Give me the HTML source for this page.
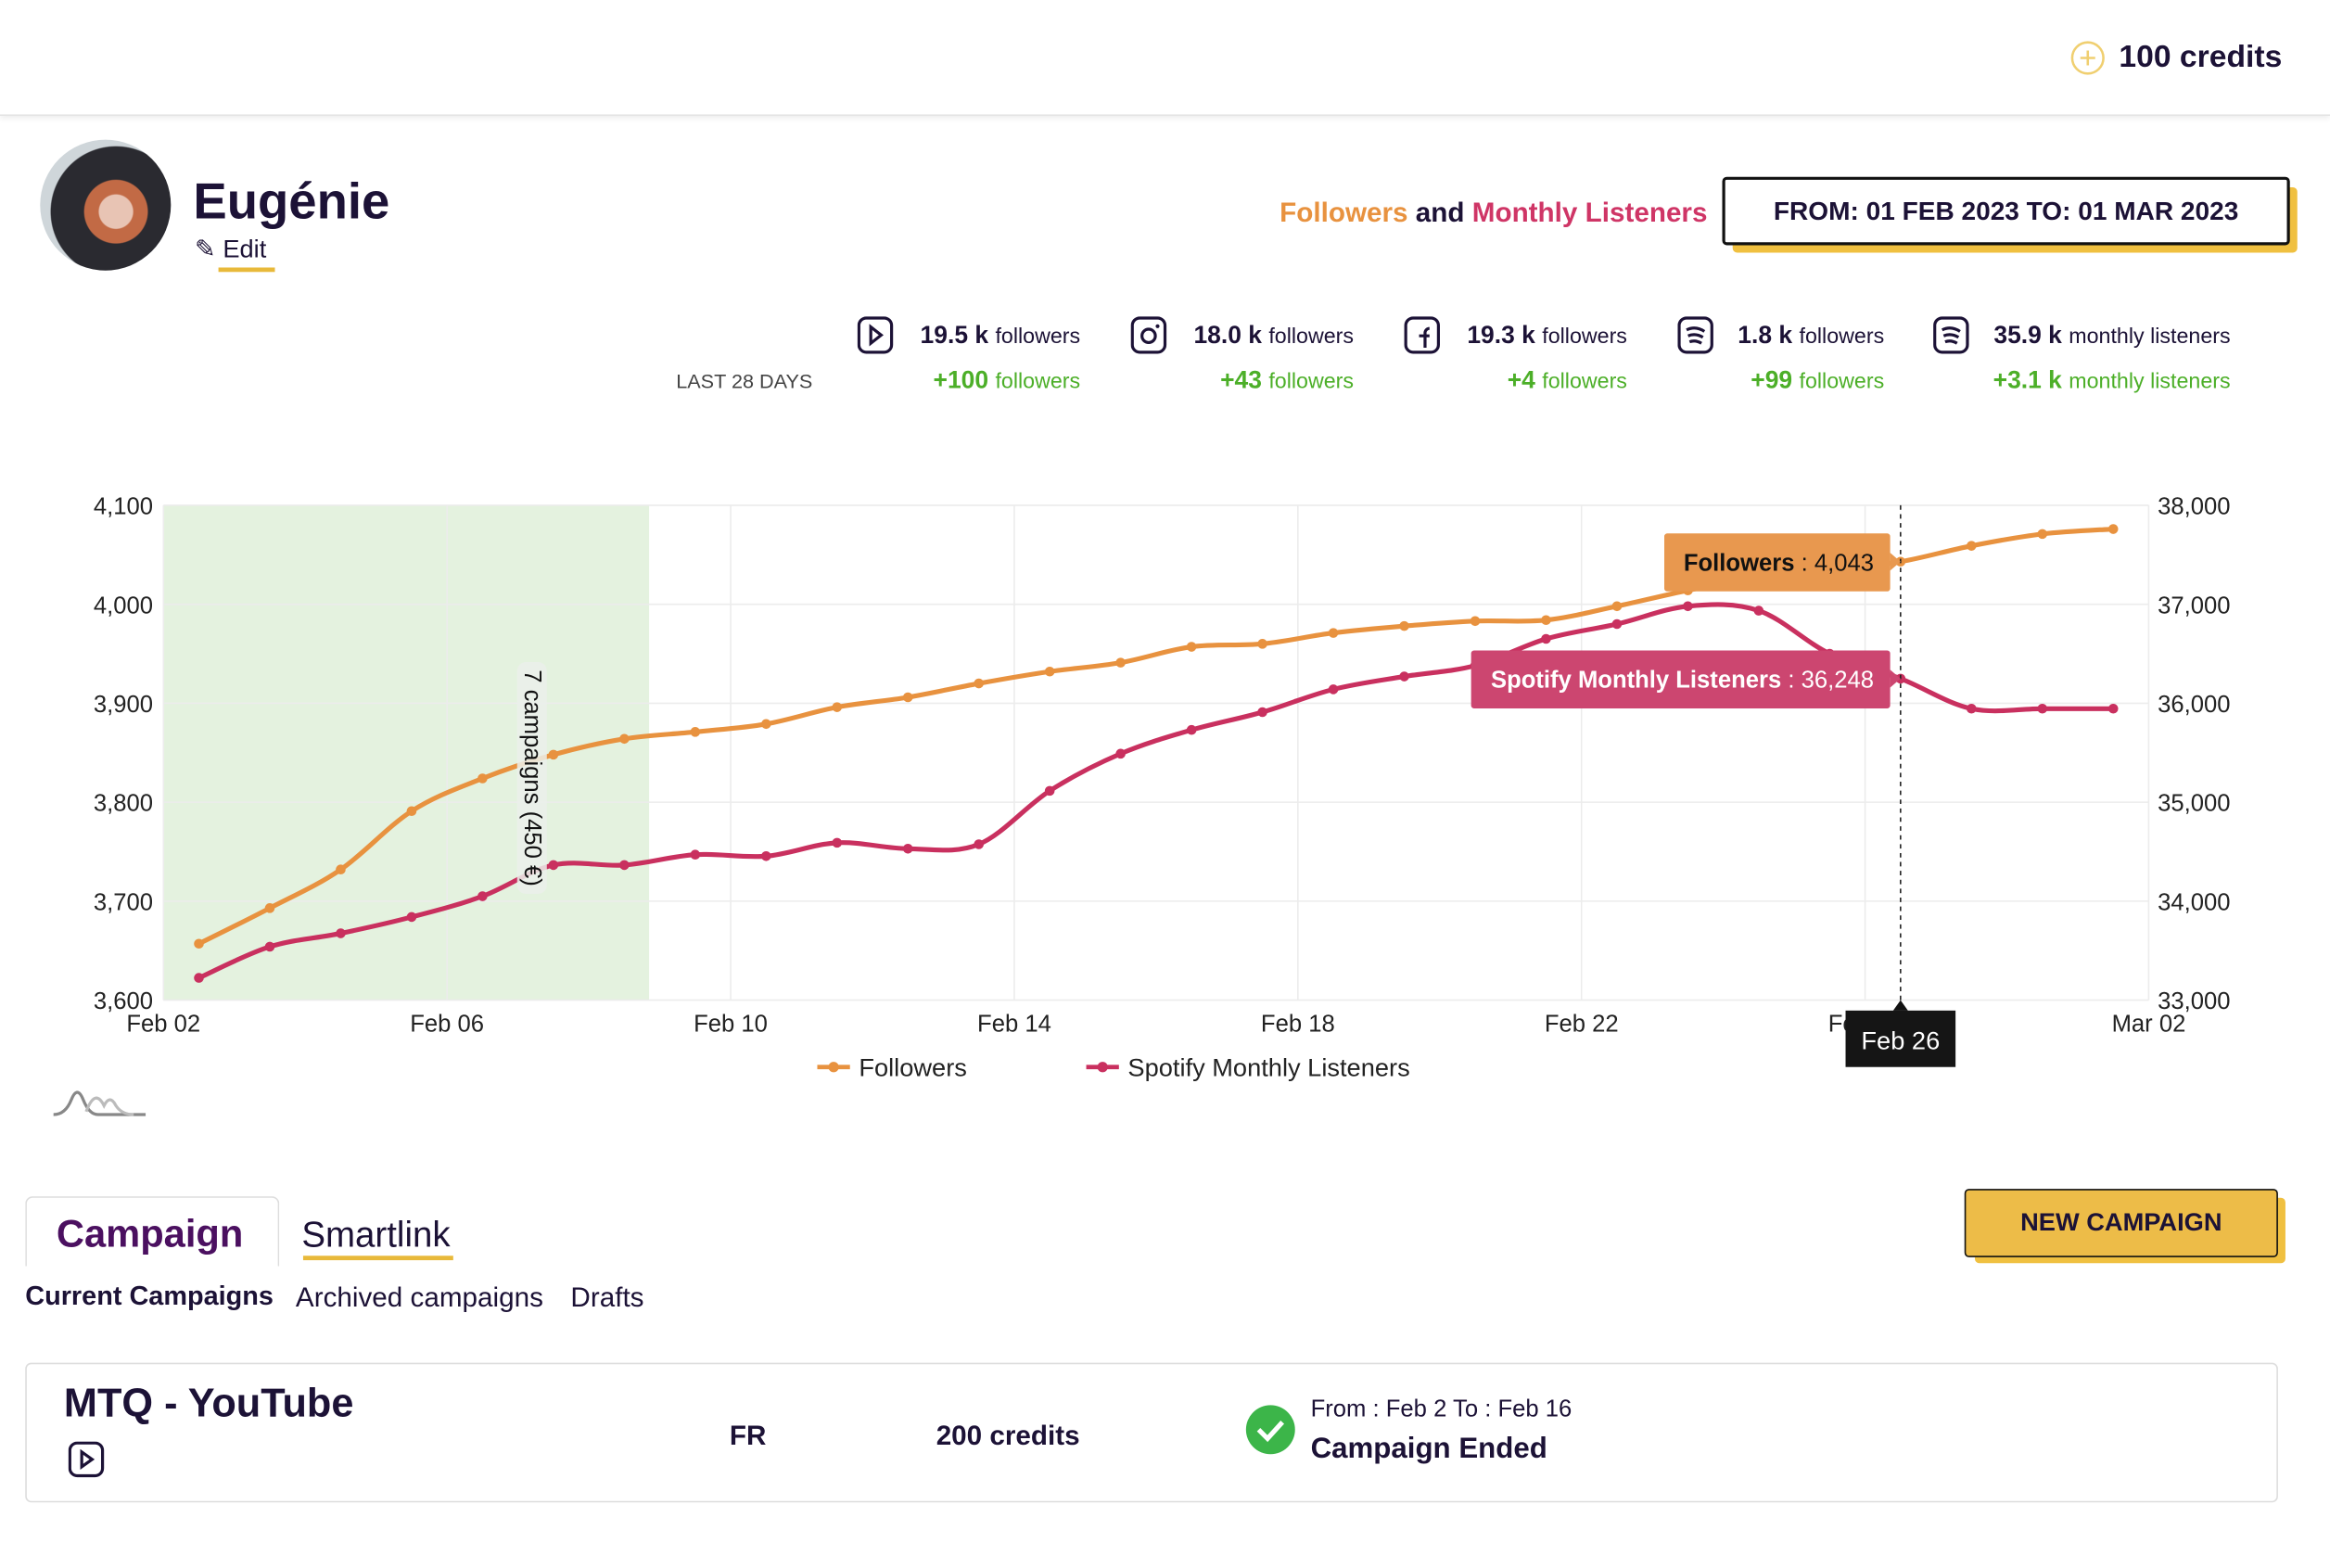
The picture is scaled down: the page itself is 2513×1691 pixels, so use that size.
<!DOCTYPE html>
<html><head><meta charset="utf-8">
<style>
html,body{margin:0;padding:0;background:#fff;overflow:hidden}
body{width:2513px;height:1691px;position:relative}
#wrap{position:absolute;left:0;top:0;width:1568px;height:1055px;transform:scale(1.60268);transform-origin:0 0;font-family:"Liberation Sans Narrow","Liberation Sans",sans-serif;color:#1c1236}
.a{position:absolute;white-space:nowrap}
svg text{font-family:"Liberation Sans Narrow","Liberation Sans",sans-serif}
</style></head><body>
<div id="wrap">
<div class="a" style="left:0;top:0;width:1568px;height:77px;border-bottom:1px solid #e4e4e4;box-shadow:0 2px 4px rgba(0,0,0,0.08)"></div>
<svg class="a" style="left:1393px;top:27px" width="24" height="24"><circle cx="12" cy="12" r="10.5" fill="none" stroke="#f0cf70" stroke-width="1.6"/><path d="M12 7v10M7 12h10" stroke="#f0cf70" stroke-width="1.6"/></svg>
<div class="a" style="left:1426px;top:27px;font-size:21px;font-weight:bold">100 credits</div>

<div class="a" style="left:27px;top:94px;width:88px;height:88px;border-radius:50%;background:radial-gradient(circle at 58% 55%,#e8c4b4 0 16%,#c26a45 17% 30%,#2a2a30 31% 62%,#cfd6da 63%)"></div>
<div class="a" style="left:130px;top:117px;font-size:34px;font-weight:bold;color:#1c1236">Eugénie</div>
<div class="a" style="left:131px;top:158px;font-size:17px;color:#1c1236">&#9998; Edit</div>
<div class="a" style="left:147px;top:180px;width:38px;height:3px;background:#e8b93a"></div>

<div class="a" style="right:419px;top:132px;font-size:18.5px;font-weight:bold"><span style="color:#e8923f">Followers</span> and <span style="color:#cf3566">Monthly Listeners</span></div>
<div class="a" style="left:1166px;top:126px;width:380px;height:44px;background:#f0c040;border-radius:3px"></div>
<div class="a" style="left:1159px;top:119px;width:378px;height:42px;border:2px solid #111;background:#fff;border-radius:3px;font-size:17.5px;font-weight:bold;line-height:42px;text-align:center;color:#1c1236">FROM: 01 FEB 2023 TO: 01 MAR 2023</div>

<div class="a" style="left:455px;top:249px;font-size:13.5px;color:#444">LAST 28 DAYS</div>
<div id="stats"></div>

<svg class="a" id="chart" style="left:0;top:300px" width="1568" height="480" viewBox="0 300 1568 480"></svg>

<svg class="a" style="left:34px;top:728px" width="68" height="26"><path d="M2 22 Q10 22 14 12 Q18 2 22 12 Q26 22 32 22 L64 22" fill="none" stroke="#888" stroke-width="2"/><path d="M24 20 Q30 4 36 16 Q40 8 44 16 Q48 22 56 22" fill="none" stroke="#bbb" stroke-width="2"/></svg>

<div class="a" style="left:17px;top:805px;width:169px;height:46px;border:1px solid #ddd;border-bottom:none;border-radius:5px 5px 0 0"></div>
<div class="a" style="left:38px;top:815px;font-size:26px;font-weight:bold;color:#4b1060">Campaign</div>
<div class="a" style="left:203px;top:818px;font-size:24px;color:#1c1236">Smartlink</div>
<div class="a" style="left:204px;top:845px;width:101px;height:3px;background:#e8b93a"></div>
<div class="a" style="left:17px;top:862px;font-size:18px;font-weight:bold">Current Campaigns</div>
<div class="a" style="left:199px;top:862px;font-size:18.5px">Archived campaigns</div>
<div class="a" style="left:384px;top:862px;font-size:18.5px">Drafts</div>

<div class="a" style="left:1329px;top:806px;width:209px;height:44px;background:#f0c040;border-radius:3px"></div>
<div class="a" style="left:1322px;top:800px;width:209px;height:44px;border:1.5px solid #111;background:#edbc48;border-radius:3px;font-size:17px;font-weight:bold;line-height:44px;text-align:center">NEW CAMPAIGN</div>

<div class="a" style="left:17px;top:917px;width:1514px;height:92px;border:1.5px solid #ddd;border-radius:4px"></div>
<div class="a" style="left:43px;top:929px;font-size:27px;font-weight:bold">MTQ - YouTube</div>
<svg class="a" style="left:46px;top:970px" width="26" height="26"><rect x="1" y="1" width="22" height="22" rx="5" fill="none" stroke="#1c1236" stroke-width="2"/><path d="M9 7v10l7-5z" fill="none" stroke="#1c1236" stroke-width="2"/></svg>
<div class="a" style="left:491px;top:955px;font-size:18.5px;font-weight:bold">FR</div>
<div class="a" style="left:630px;top:955px;font-size:18.5px;font-weight:bold">200 credits</div>
<svg class="a" style="left:838px;top:945px" width="34" height="34"><circle cx="17" cy="17" r="16.5" fill="#3cb549"/><path d="M9 17l6 6 10-11" fill="none" stroke="#fff" stroke-width="3.2"/></svg>
<div class="a" style="left:882px;top:940px;font-size:16px">From : Feb 2 To : Feb 16</div>
<div class="a" style="left:882px;top:964px;font-size:19.5px;font-weight:bold">Campaign Ended</div>
</div>

<script>
// ---- chart data ----
const dayLabels = ["Feb 02","Feb 06","Feb 10","Feb 14","Feb 18","Feb 22","Feb 26","Mar 02"];
const followers = [3657,3693,3732,3791,3824,3848,3864,3871,3879,3896,3906,3920,3932,3941,3957,3960,3971,3978,3983,3984,3998,4014,4027,4034,4043,4059,4071,4076];
const listeners = [33225,33540,33675,33840,34050,34365,34365,34470,34455,34590,34530,34575,35115,35490,35730,35910,36140,36270,36380,36650,36800,36980,36935,36500,36248,35945,35945,35945];
const leftTicks = [3600,3700,3800,3900,4000,4100];
const rightTicks = [33000,34000,35000,36000,37000,38000];
const campaignDays = [0, 6.85];
const campaignLabel = "7 campaigns (450 €)";
const hoverIndex = 24;
const hoverLabel = "Feb 26";

const NS="http://www.w3.org/2000/svg";
const svg=document.getElementById('chart');
const X0=110,X1=1446,Y0=673,Y1=340,DAYS=28;
const xs=d=>X0+(X1-X0)*d/DAYS;
const yl=v=>Y0-(v-3600)/500*(Y0-Y1);
const yr=v=>Y0-(v-33000)/5000*(Y0-Y1);
function mk(tag,attrs,parent){const e=document.createElementNS(NS,tag);for(const k in attrs)e.setAttribute(k,attrs[k]);(parent||svg).appendChild(e);return e;}

const band=mk('rect',{x:xs(campaignDays[0]),y:Y1,width:xs(campaignDays[1])-xs(campaignDays[0]),height:Y0-Y1,fill:'#e4f2df'});


leftTicks.forEach((t,i)=>{
  const g=mk('line',{x1:X0,x2:X1,y1:yl(t),y2:yl(t),stroke:'#ececec','stroke-width':1});
  
  
  const l=mk('text',{x:103,y:yl(t)+6,'text-anchor':'end','font-size':16,fill:'#222'});l.textContent=t.toLocaleString('en-US');
  
  
});
rightTicks.forEach(t=>{
  const l=mk('text',{x:1452,y:yr(t)+6,'font-size':16,fill:'#222'});l.textContent=t.toLocaleString('en-US');
  
  
});
dayLabels.forEach((lab,i)=>{
  const d=i*4;
  const g=mk('line',{x1:xs(d),x2:xs(d),y1:Y1,y2:Y0,stroke:'#ececec','stroke-width':1});
  
  
  const l=mk('text',{x:xs(d),y:694,'text-anchor':'middle','font-size':16,fill:'#222'});l.textContent=lab;
  
  
});
function smooth(pts){
  let d=`M${pts[0][0]},${pts[0][1]}`;
  for(let i=0;i<pts.length-1;i++){
    const p0=pts[i-1]||pts[i],p1=pts[i],p2=pts[i+1],p3=pts[i+2]||p2;
    const c1=[p1[0]+(p2[0]-p0[0])/6,p1[1]+(p2[1]-p0[1])/6];
    const c2=[p2[0]-(p3[0]-p1[0])/6,p2[1]-(p3[1]-p1[1])/6];
    d+=` C${c1[0]},${c1[1]} ${c2[0]},${c2[1]} ${p2[0]},${p2[1]}`;
  }
  return d;
}
function series(vals,yf,color,name){
  const pts=vals.map((v,i)=>[xs(i+0.5),yf(v)]);
  const p=mk('path',{d:smooth(pts),fill:'none',stroke:color,'stroke-width':3.2});
  
  
  pts.forEach(q=>{
    const c=mk('circle',{cx:q[0],cy:q[1],r:3.3,fill:color});
    
    
  });
}
series(followers,yl,'#e8923f','followers');
series(listeners,yr,'#c9305f','listeners');

const cx=358,cy=(Y1+Y0)/2+17;
const lbg=mk('rect',{x:cx-10,y:cy-78,width:20,height:156,rx:6,fill:'rgba(235,240,235,0.85)'});


const lt=mk('text',{x:cx,y:cy,transform:`rotate(90 ${cx} ${cy})`,'text-anchor':'middle','dominant-baseline':'central','font-size':16,fill:'#111',style:'font-family:"Liberation Sans",sans-serif'});lt.textContent=campaignLabel;



const hx=xs(hoverIndex+0.5);
const hl=mk('line',{x1:hx,x2:hx,y1:Y1,y2:Y0,stroke:'#222','stroke-width':1,'stroke-dasharray':'3,3'});


function tip(val,yf,color,txtColor,label,w,name){
  const y=yf(val);
  const g=mk('g',{});
  
  
  mk('rect',{x:hx-7-w,y:y-19,width:w,height:39,rx:2,fill:color},g);
  mk('path',{d:`M${hx-7},${y-6} L${hx},${y} L${hx-7},${y+6}z`,fill:color},g);
  const t=mk('text',{x:hx-18,y:y+6,'text-anchor':'end','font-size':16,fill:txtColor},g);
  t.innerHTML=`<tspan font-weight="bold">${label}</tspan> : ${val.toLocaleString('en-US')}`;
}
tip(followers[hoverIndex],yl,'#e8984f','#111','Followers',152,'followers-tooltip');
tip(listeners[hoverIndex],yr,'#cc4670','#fff','Spotify Monthly Listeners',282,'listeners-tooltip');
const xt=mk('g',{});


mk('path',{d:`M${hx-5},680 L${hx},673 L${hx+5},680z`,fill:'#111'},xt);
mk('rect',{x:hx-37,y:680,width:74,height:38,fill:'#151515'},xt);
const xtt=mk('text',{x:hx,y:706,'text-anchor':'middle','font-size':17,fill:'#fff'},xt);xtt.textContent=hoverLabel;

[['Followers','#e8923f',550],['Spotify Monthly Listeners','#c9305f',731]].forEach(([n,c,x])=>{
  const g=mk('g',{});
  
  
  mk('line',{x1:x,x2:x+22,y1:718,y2:718,stroke:c,'stroke-width':3},g);
  mk('circle',{cx:x+11,cy:718,r:3.5,fill:c},g);
  const t=mk('text',{x:x+28,y:724,'font-size':17,fill:'#222'},g);t.textContent=n;
});

const statValues=["19.5 k","18.0 k","19.3 k","1.8 k","35.9 k"];
const statUnits=["followers","followers","followers","followers","monthly listeners"];
const statDeltas=["+100","+43","+4","+99","+3.1 k"];
const statIcons=["youtube","instagram","facebook","spotify","spotify"];
const iconX=[577,761,945,1129,1301];
const rightX=[727,911,1095,1268,1501];
const stats=document.getElementById('stats');
statValues.forEach((v,i)=>{
  const ic=document.createElementNS(NS,'svg');
  ic.setAttribute('class','a');ic.setAttribute('width','26');ic.setAttribute('height','28');
  ic.setAttribute('style',`left:${iconX[i]}px;top:212px`);
  
  
  let inner='<rect x="1" y="2" width="22" height="23" rx="5" fill="none" stroke="#1c1236" stroke-width="2"/>';
  if(statIcons[i]==='youtube')inner+='<path d="M9 8v11l7-5.5z" fill="none" stroke="#1c1236" stroke-width="2"/>';
  if(statIcons[i]==='instagram')inner+='<circle cx="12" cy="14" r="4.5" fill="none" stroke="#1c1236" stroke-width="2"/><circle cx="18" cy="7.5" r="1.3" fill="#1c1236"/>';
  if(statIcons[i]==='facebook')inner+='<path d="M14 22v-10a3 3 0 0 1 3-3M10 14h7" fill="none" stroke="#1c1236" stroke-width="2"/>';
  if(statIcons[i]==='spotify')inner+='<path d="M6 10q6-3 12 1M7 14q5-2 10 1M8 18q4-1.5 8 1" fill="none" stroke="#1c1236" stroke-width="2"/>';
  ic.innerHTML=inner;stats.appendChild(ic);
  const t=document.createElement('div');t.className='a';
  t.setAttribute('style',`right:${1568-rightX[i]}px;top:217px;font-size:16.5px;color:#1c1236`);
  
  
  t.innerHTML=`<b>${v}</b> <span style="font-size:14.5px">${statUnits[i]}</span>`;stats.appendChild(t);
  const d=document.createElement('div');d.className='a';
  d.setAttribute('style',`right:${1568-rightX[i]}px;top:247px;font-size:16.5px;color:#4caf28`);
  
  
  d.innerHTML=`<b>${statDeltas[i]}</b> <span style="font-size:14.5px">${statUnits[i]}</span>`;stats.appendChild(d);
});
</script>
</body></html>
